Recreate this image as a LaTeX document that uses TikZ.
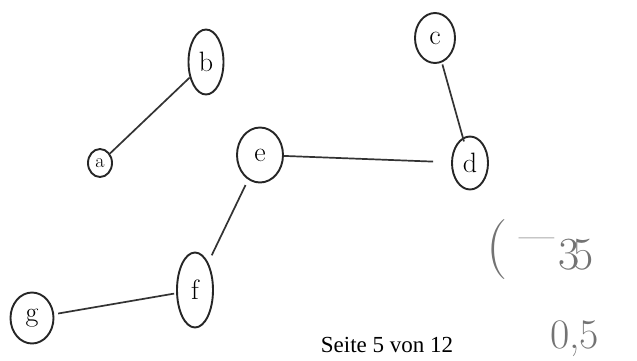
\documentclass[tikz,border=0pt]{standalone}
\usepackage{fontspec}
\setmainfont{Liberation Serif}
\newfontfamily\hand{Latin Modern Roman}
\usetikzlibrary{shapes.geometric}

\begin{document}
\begin{tikzpicture}[
  x=1pt, y=-1pt,
  vertex/.style={draw=black!85, ellipse, line width=1.9pt, inner sep=0pt, font=\hand\fontsize{28}{28}\selectfont},
  edge/.style={draw=black!80, line width=1.7pt},
  scribble/.style={text=black!55, inner sep=0pt, font=\hand\fontsize{#1}{#1}\selectfont},
]
\clip (0,0) rectangle (637,360);
\fill[white] (0,0) rectangle (637,360);

% Vertices
\node[vertex, minimum width=24pt, minimum height=28pt, font=\hand\fontsize{20}{20}\selectfont] (a) at (100,163) {a};
\node[vertex, minimum width=35pt, minimum height=65pt] (b) at (206,62) {b};
\node[vertex, minimum width=40pt, minimum height=50pt] (c) at (435,38) {c};
\node[vertex, minimum width=36pt, minimum height=53pt] (d) at (470,163) {d};
\node[vertex, minimum width=46pt, minimum height=55pt] (e) at (260,155) {e};
\node[vertex, minimum width=36pt, minimum height=75pt] (f) at (195,290) {f};
\node[vertex, minimum width=43pt, minimum height=51pt] (g) at (32,318) {g};

% Edges
\draw[edge] (a) -- (b);
\draw[edge, shorten <=2pt, shorten >=-4pt] (c) -- (d);
\draw[edge, shorten >=18pt] (e) -- (d);
\draw[edge, shorten <=8pt, shorten >=6pt] (f) -- (e);
\draw[edge, shorten <=4pt, shorten >=2pt] (g) -- (f);

% Notes
\node[scribble=60] (paren) at (497,250) {(};
\node[scribble=38, anchor=base west] (minus) at (519,248) {\textemdash};
\node[scribble=46, anchor=west] (num) at (558,255) {3\kern-.15em5};
\node[scribble=42, anchor=base west] (half) at (550,348) {0,5};
\node[font=\fontsize{23}{23}\selectfont, anchor=base] (page) at (387,352) {Seite 5 von 12};
\end{tikzpicture}
\end{document}
